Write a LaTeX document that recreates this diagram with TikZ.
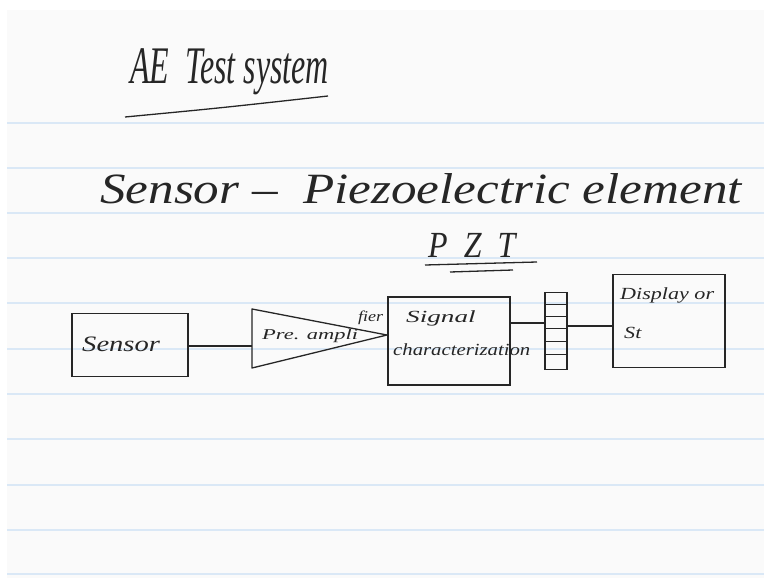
\documentclass[tikz,border=0pt]{standalone}
\usepackage{fontspec}
\setmainfont{Liberation Serif}
\usetikzlibrary{shapes.geometric}
\definecolor{ruleblue}{RGB}{218,232,246}
\definecolor{paper}{RGB}{250,250,250}
\begin{document}
\begin{tikzpicture}[x=1pt,y=-1pt,
  ink/.style={draw=black!85, line width=1.3pt},
  hand/.style={font=\itshape, text=black!85, inner sep=0pt},
  rule/.style={draw=ruleblue, line width=1.4pt},
  blk/.style={draw=black!85, line width=1.3pt, fill=none, inner sep=0pt}]
\useasboundingbox (0,0) rectangle (764,578);
\fill[white] (0,0) rectangle (764,578);
\fill[paper] (7,10) rectangle (764,578);
\foreach \yy in {123,168,213,258,303,349,394,439,485,530,574}
  \draw[rule] (7,\yy) -- (764,\yy);
% title
\node[hand, anchor=base west] (title) at (130,84) {\fontsize{32}{36}\selectfont\scalebox{1}[1.65]{AE\ \ Test system}};
\coordinate (u1) at (125,117); \coordinate (u2) at (328,96);
\draw[ink] (u1) .. controls (220,108) .. (u2);
% subtitle
\node[hand, anchor=base west] (sub) at (100,203) {\fontsize{36}{40}\selectfont\scalebox{1.42}[1.2]{Sensor --\ \ Piezoelectric element}};
\node[hand, anchor=base west] (pzt) at (428,257) {\fontsize{32}{36}\selectfont\scalebox{1}[1.15]{P\ \ Z\ \ T}};
\coordinate (p1) at (425,265); \coordinate (p2) at (537,262);
\coordinate (p3) at (450,272); \coordinate (p4) at (513,270);
\draw[ink] (p1) -- (p2);
\draw[ink] (p3) -- (p4);
% blocks
\node[blk, minimum width=116pt, minimum height=63pt] (sensor) at (130,345) {};
\node[hand, anchor=west] (sensorT) at (82,344) {\fontsize{22}{24}\selectfont\scalebox{1.3}[1]{Sensor}};
\coordinate (t1) at (252,309); \coordinate (t2) at (252,368); \coordinate (tA) at (387,335);
\draw[ink, line join=round] (t1) -- (tA) -- (t2) -- cycle;
\node[hand, anchor=west] (amp) at (262,336) {\fontsize{15}{16}\selectfont\scalebox{1.5}[1]{Pre. ampli}};
\node[hand, anchor=west] (amp2) at (358,318) {\fontsize{15}{16}\selectfont\scalebox{1.2}[1]{fier}};
\node[blk, minimum width=122pt, minimum height=88pt] (sig) at (449,341) {};
\node[hand, anchor=west] (sigT) at (406,318) {\fontsize{17}{18}\selectfont\scalebox{1.6}[1]{Signal}};
\node[hand, anchor=west] (sigT2) at (393,350) {\fontsize{17}{18}\selectfont\scalebox{1.22}[1]{characterization}};
\node[blk, minimum width=22pt, minimum height=77pt] (buf) at (556,331) {};
\foreach \yy in {304,316,328,341,354}
  \draw[ink, line width=1pt] (545,\yy) -- (567,\yy);
\node[blk, minimum width=112pt, minimum height=93pt] (disp) at (669,321) {};
\node[hand, anchor=west] (dispT) at (620,295) {\fontsize{17}{18}\selectfont\scalebox{1.3}[1]{Display or}};
\node[hand, anchor=west] (dispT2) at (624,333) {\fontsize{17}{18}\selectfont\scalebox{1.3}[1]{St}};
% connectors
\draw[ink] (sensor.east |- 0,346) -- (t1 |- 0,346);
\draw[ink] (sig.east |- 0,323) -- (buf.west |- 0,323);
\draw[ink] (buf.east |- 0,326) -- (disp.west |- 0,326);
\end{tikzpicture}
\end{document}
